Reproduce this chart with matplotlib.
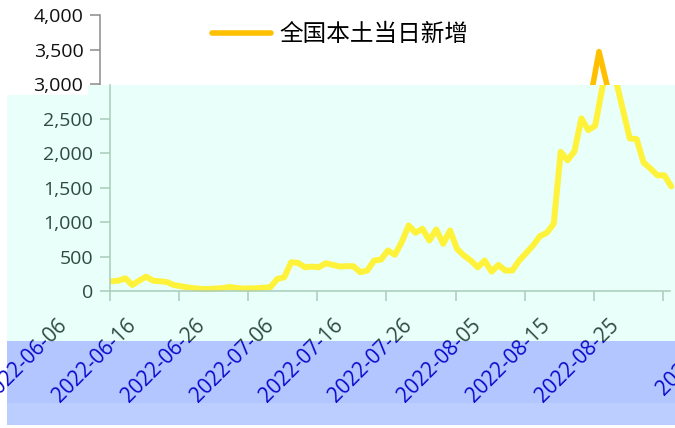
import matplotlib
matplotlib.use('Agg')
import matplotlib.pyplot as plt
import matplotlib.transforms as mtransforms
from matplotlib.patches import Rectangle, Polygon

plt.rcParams['font.family'] = ['Open Sans', 'Noto Sans CJK SC', 'DejaVu Sans']

## Dados (2022-06-06 .. 2022-08-26)
days = list(range(82))
cases = [141, 150, 184, 87, 150, 208, 150, 141, 130, 87,
         70, 53, 40, 30, 30, 35, 40, 58, 45, 35,
         38, 40, 48, 56, 175, 199, 417, 407, 344, 354,
         344, 402, 380, 354, 360, 359, 272, 296, 441, 455,
         587, 524, 708, 950, 844, 902, 732, 892, 684, 877,
         611, 514, 441, 344, 441, 281, 378, 296, 296, 441,
         550, 659, 795, 844, 975, 2017, 1895, 2026, 2502, 2332,
         2396, 2930, 3470, 3050, 2630, 2211, 2201, 1862, 1775, 1677,
         1677, 1517]
tick_days = [0, 10, 20, 30, 40, 50, 60, 70, 80]
tick_labels = ['2022-06-06', '2022-06-16', '2022-06-26', '2022-07-06', '2022-07-16',
               '2022-07-26', '2022-08-05', '2022-08-15', '2022-08-25']
extra_label = '2022-09-04'   # rotulo seguinte, quase todo fora da imagem
y_low_ticks = [0, 500, 1000, 1500, 2000, 2500]
y_high_ticks = [3000, 3500, 4000]
legend_label = '全国本土当日新增'

W, H = 675, 428
fig = plt.figure(figsize=(6.75, 4.28), dpi=100)

def box(l, t, r, b):
    return [l / W, 1 - b / H, (r - l) / W, (b - t) / H]

def pts(lst):
    return [(x / W, 1 - y / H) for x, y in lst]

def fmt(v):
    return f'{v:,}'

XLIM = (0, 81.04)
YSPLIT = 2986
line_shift = mtransforms.ScaledTranslation(1.5 / 100, 0, fig.dpi_scale_trans)

## parte de cima (original, branco)
axA = fig.add_axes(box(100, 15, 660, 85), zorder=0)
axA.set_facecolor('none')
lineA, = axA.plot(days, cases, color='#FFC000', lw=4, solid_capstyle='round', solid_joinstyle='round')
lineA.set_transform(axA.transData + line_shift)
axA.set_xlim(*XLIM)
axA.set_ylim(YSPLIT, 4000)
for s in ['top', 'right', 'bottom']:
    axA.spines[s].set_visible(False)
axA.spines['left'].set_color('#8c8c8c')
axA.spines['left'].set_linewidth(1.1)
axA.set_xticks([])
axA.set_yticks(y_high_ticks)
axA.set_yticklabels([fmt(v) for v in y_high_ticks])
axA.tick_params(axis='y', length=7, width=1.1, color='#8c8c8c', labelsize=14, labelcolor='#111111', pad=5)

## fundos (ciano e faixa azul)
fig.add_artist(Polygon(pts([(88, 85), (675, 85), (675, 341), (7, 341), (7, 95), (88, 95)]),
                       closed=True, transform=fig.transFigure, facecolor='#E8FFFA', edgecolor='none', zorder=1))
fig.add_artist(Rectangle((7 / W, 1 - 403 / H), 668 / W, 62 / H, transform=fig.transFigure,
                         facecolor='#B3C6FF', edgecolor='none', zorder=1))
fig.add_artist(Rectangle((7 / W, 1 - 425 / H), 668 / W, 22 / H, transform=fig.transFigure,
                         facecolor='#BBCEFF', edgecolor='none', zorder=1))

cyan_clip = Rectangle((0, 1 - 341 / H), 1, 256 / H, transform=fig.transFigure)
blue_clip = Rectangle((0, 0), 1, 1 - 341 / H, transform=fig.transFigure)

## parte do meio (deslocada, ciano)
axB = fig.add_axes(box(110, 85, 670, 291), zorder=2)
axB.set_facecolor('none')
lineB, = axB.plot(days, cases, color='#FFF23A', lw=4.3, solid_capstyle='round', solid_joinstyle='round')
lineB.set_transform(axB.transData + line_shift)
lineB.set_clip_box(mtransforms.TransformedBbox(
    mtransforms.Bbox([[110 / W, 1 - 300 / H], [1, 1 - 85 / H]]), fig.transFigure))
axB.set_xlim(*XLIM)
axB.set_ylim(0, YSPLIT)
for s in ['top', 'right']:
    axB.spines[s].set_visible(False)
for s in ['left', 'bottom']:
    axB.spines[s].set_color('#A9CDBB')
    axB.spines[s].set_linewidth(1.1)
axB.set_yticks(y_low_ticks)
axB.set_yticklabels([fmt(v) for v in y_low_ticks])
axB.tick_params(axis='y', length=7, width=1.1, color='#A9CDBB', labelsize=14, labelcolor='#2E4B3F', pad=5)
axB.set_xticks(tick_days)
axB.set_xticklabels(tick_labels)
axB.tick_params(axis='x', length=7, width=1.1, color='#A9CDBB', labelsize=15, labelcolor='#2E4B3F',
                pad=10, labelrotation=45)

## rotulos azuis por cima
axC = fig.add_axes(box(110, 85, 670, 291), zorder=3)
axC.set_facecolor('none')
axC.set_xlim(*XLIM)
axC.set_ylim(0, YSPLIT)
for s in axC.spines.values():
    s.set_visible(False)
axC.set_yticks([])
axC.set_xticks(tick_days)
axC.set_xticklabels(tick_labels)
axC.tick_params(axis='x', length=7, width=1.1, color='none', labelsize=15, labelcolor='#0A0ACD',
                pad=10, labelrotation=45)

shift = mtransforms.ScaledTranslation(-39 / 100, 0, fig.dpi_scale_trans)
for ax, clip in [(axB, cyan_clip), (axC, blue_clip)]:
    for lbl in ax.get_xticklabels():
        lbl.set_ha('right')
        lbl.set_va('top')
        lbl.set_transform(lbl.get_transform() + shift)
        lbl.set_clip_path(clip)

fig.text(664 / W, 1 - 396 / H, extra_label, rotation=45, rotation_mode='anchor', ha='left', va='baseline',
         fontsize=15, color='#0A0ACD', zorder=4)

## legenda
fig.legend(handles=[lineA], labels=[legend_label], loc='center', bbox_to_anchor=(340 / W, 1 - 35 / H),
           frameon=False, fontsize=17, handlelength=2.5, handletextpad=0.35)

fig.savefig('out.png', dpi=100)
